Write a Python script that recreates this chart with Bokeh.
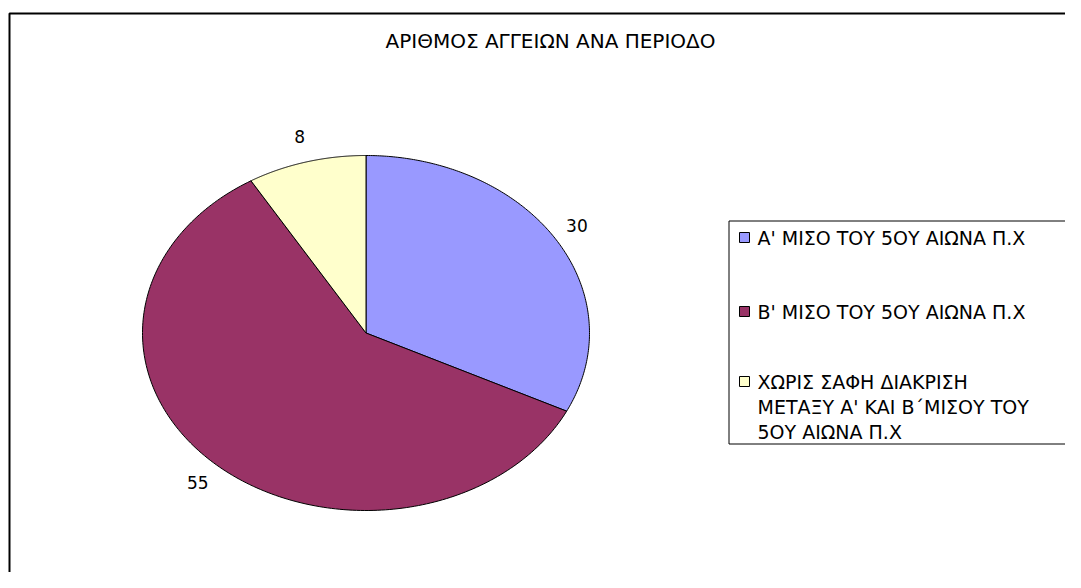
import numpy as np
from bokeh.plotting import figure
from bokeh.models import Range1d
from bokeh.core.properties import value
from bokeh.embed import file_html
from bokeh.resources import INLINE

title = "ΑΡΙΘΜΟΣ ΑΓΓΕΙΩΝ ΑΝΑ ΠΕΡΙΟΔΟ"
categories = [
    "Α' ΜΙΣΟ ΤΟΥ 5ΟΥ ΑΙΩΝΑ Π.Χ",
    "Β' ΜΙΣΟ ΤΟΥ 5ΟΥ ΑΙΩΝΑ Π.Χ",
    "ΧΩΡΙΣ ΣΑΦΗ ΔΙΑΚΡΙΣΗ\nΜΕΤΑΞΥ Α' ΚΑΙ Β΄ΜΙΣΟΥ ΤΟΥ\n5ΟΥ ΑΙΩΝΑ Π.Χ",
]
counts = [30, 55, 8]
colors = ["#9999FF", "#993366", "#FFFFCC"]

FONT = "DejaVu Sans"
W, H = 1065, 572
p = figure(width=W, height=H, output_backend="svg", toolbar_location=None,
           x_range=Range1d(0, W), y_range=Range1d(H, 0),
           x_axis_type=None, y_axis_type=None, min_border=0,
           outline_line_color=None, background_fill_color="white")
p.grid.visible = False

# outer chart frame
p.quad(left=[9], right=[1300], top=[13], bottom=[800],
       fill_color=None, line_color="black", line_width=2)

# title
p.text(x=[550], y=[40], text=[title], text_font=value(FONT),
       text_font_size="20px", text_align="center", text_baseline="middle",
       text_color="black")

# elliptical pie
cx, cy, rx, ry = 365.5, 332.5, 223.5, 177.5
total = float(sum(counts))
fr = np.cumsum([0] + counts) / total
xs, ys, lx, ly = [], [], [], []
for i in range(len(counts)):
    t = np.linspace(fr[i], fr[i + 1], 200) * 2 * np.pi
    xs.append([cx] + list(cx + rx * np.sin(t)))
    ys.append([cy] + list(cy - ry * np.cos(t)))
    m = (fr[i] + fr[i + 1]) * np.pi
    lx.append(cx + (rx + 25) * np.sin(m))
    ly.append(cy - (ry + 26) * np.cos(m))
p.patches(xs, ys, fill_color=colors, line_color="black", line_width=1)
p.text(x=lx, y=ly, text=[str(c) for c in counts], text_font=value(FONT),
       text_font_size="17px", text_align="center", text_baseline="middle",
       text_color="black")

# legend
p.quad(left=[728.5], right=[1300], top=[220.5], bottom=[443.5],
       fill_color="white", line_color="black", line_width=1)
leg_y = [237, 311, 381]
for lab, col, yy in zip(categories, colors, leg_y):
    p.quad(left=[739], right=[749], top=[yy - 5], bottom=[yy + 5],
           fill_color=col, line_color="black", line_width=1)
    p.text(x=[757], y=[yy - 11], text=[lab], text_font=value(FONT),
           text_font_size="19px", text_align="left", text_baseline="top",
           text_line_height=1.15, text_color="black")

open("out.html", "w").write(file_html(p, INLINE))
